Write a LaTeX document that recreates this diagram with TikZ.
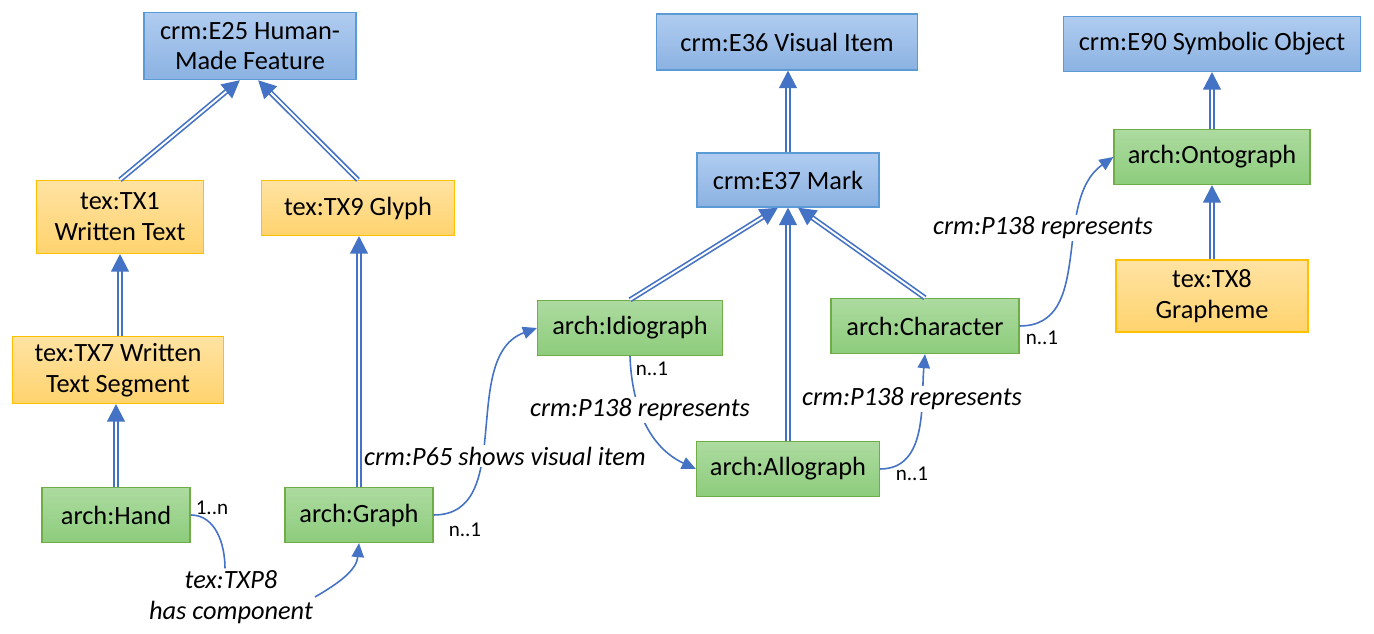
\documentclass[tikz,border=0pt]{standalone}
\usepackage{fontspec}
\setmainfont{Carlito}
\usetikzlibrary{arrows.meta,decorations.markings}
\definecolor{crmtop}{HTML}{B0CCF0}
\definecolor{crmbot}{HTML}{8BB2E2}
\definecolor{crmline}{HTML}{5B9BD5}
\definecolor{textop}{HTML}{FFE3A3}
\definecolor{texbot}{HTML}{FFD36E}
\definecolor{texline}{HTML}{FFC000}
\definecolor{archtop}{HTML}{ADDBA0}
\definecolor{archbot}{HTML}{8DCC7C}
\definecolor{archline}{HTML}{70AD47}
\definecolor{linkblue}{HTML}{4472C4}
\begin{document}
\begin{tikzpicture}[x=0.02cm,y=0.02cm,
        every node/.style={font=\fontsize{15}{17.5}\selectfont},
        clsbox/.style={draw, line width=0.7pt, align=center, inner sep=2pt},
        crmbox/.style={clsbox, draw=crmline, top color=crmtop, bottom color=crmbot},
        texbox/.style={clsbox, draw=texline, top color=textop, bottom color=texbot},
        archbox/.style={clsbox, draw=archline, top color=archtop, bottom color=archbot},
        isa/.style={draw=linkblue, line width=0.95pt, double=white, double distance=1.1pt, shorten >=5pt,
            postaction={decorate, decoration={markings, mark=at position 1 with
                {\fill [linkblue] (0,0) -- (-10pt,5.2pt) -- (-10pt,-5.2pt) -- cycle;}}}},
        link/.style={draw=linkblue, line width=0.9pt},
        rel/.style={link, -{Triangle[length=8pt,width=7pt]}},
        prop/.style={fill=white, inner sep=1pt, align=center, font=\fontsize{15}{17.5}\selectfont\itshape},
        card/.style={inner sep=0pt, font=\fontsize{12}{14}\selectfont}]
    \useasboundingbox (0,0) rectangle (1374,634);
    \node [crmbox, minimum width=4.24cm, minimum height=1.34cm] (e25) at (250,588) {crm:E25 Human-\\Made Feature};
    \node [crmbox, minimum width=5.22cm, minimum height=1.12cm] (e36) at (787,592) {crm:E36 Visual Item};
    \node [crmbox, minimum width=5.94cm, minimum height=1.10cm] (e90) at (1212,590) {crm:E90 Symbolic Object};
    \node [crmbox, minimum width=3.64cm, minimum height=1.08cm] (e37) at (788,454) {crm:E37 Mark};
    \node [texbox, minimum width=3.34cm, minimum height=1.46cm] (tx1) at (120,417) {tex:TX1\\Written Text};
    \node [texbox, minimum width=3.86cm, minimum height=1.10cm] (tx9) at (358,426) {tex:TX9 Glyph};
    \node [texbox, minimum width=4.22cm, minimum height=1.34cm] (tx7) at (118,264) {tex:TX7 Written\\Text Segment};
    \node [texbox, minimum width=3.84cm, minimum height=1.44cm] (tx8) at (1212,338) {tex:TX8\\Grapheme};
    \node [archbox, minimum width=2.96cm, minimum height=1.10cm] (hand) at (116,119) {arch:Hand};
    \node [archbox, minimum width=2.96cm, minimum height=1.10cm] (graph) at (359,119) {arch:Graph};
    \node [archbox, minimum width=3.70cm, minimum height=1.10cm] (idiograph) at (630,306) {arch:Idiograph};
    \node [archbox, minimum width=3.66cm, minimum height=1.10cm] (allograph) at (788,165) {arch:Allograph};
    \node [archbox, minimum width=3.76cm, minimum height=1.10cm] (character) at (925,308) {arch:Character};
    \node [archbox, minimum width=3.92cm, minimum height=1.10cm] (ontograph) at (1212,477) {arch:Ontograph};

    \draw [isa] (tx1.north) -- ([xshift=-0.2cm]e25.south);
    \draw [isa] (tx9.north) -- ([xshift=0.16cm]e25.south);
    \draw [isa] (tx1.south |- tx7.north) -- (tx1.south);
    \draw [isa] (hand.north) -- (hand.north |- tx7.south);
    \draw [isa] (graph.north) -- (graph.north |- tx9.south);
    \draw [isa] (e37.north) -- (e37.north |- e36.south);
    \draw [isa] (idiograph.north) -- ([xshift=-0.2cm]e37.south);
    \draw [isa] (allograph.north) -- (e37.south);
    \draw [isa] (character.north) -- ([xshift=0.2cm]e37.south);
    \draw [isa] (ontograph.north) -- (e90.south);
    \draw [isa] (tx8.north) -- (ontograph.south);

    \node [prop, fill=none] (txp8) at (231,37) {tex:TXP8\\has component};
    \draw [link] (hand.east) to[out=0,in=90] ([xshift=-0.12cm]txp8.north);
    \draw [rel] (txp8.east) to[out=30,in=-95] (graph.south);
    \draw [rel] (graph.east) to[out=0,in=200] (idiograph.west);
    \draw [rel] (idiograph.south) to[out=-88,in=155] (allograph.west);
    \draw [rel] (allograph.east) to[out=0,in=-95] (character.south);
    \draw [rel] (character.east) to[out=0,in=215] (ontograph.west);

    \node [prop] (p65) at (505,178) {crm:P65 shows visual item};
    \node [prop] (p138a) at (640,224) {crm:P138 represents};
    \node [prop] (p138b) at (912,235) {crm:P138 represents};
    \node [prop] (p138c) at (1043,406) {crm:P138 represents};
    \node [card] (c1) at (212,126) {1..n};
    \node [card] (c2) at (465,104) {n..1};
    \node [card] (c3) at (652,265) {n..1};
    \node [card] (c4) at (912,160) {n..1};
    \node [card] (c5) at (1042,296) {n..1};
\end{tikzpicture}
\end{document}
